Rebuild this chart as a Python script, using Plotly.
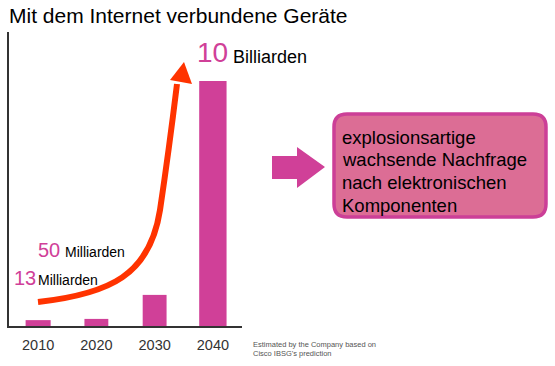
import plotly.graph_objects as go

# ---- data ----
years = ["2010", "2020", "2030", "2040"]
devices = [2.4, 2.9, 12.7, 100]          # relative bar heights
bar_widths = [0.43, 0.41, 0.41, 0.47]

title_text = "Mit dem Internet verbundene Geräte"
box_lines = ["explosionsartige", "wachsende Nachfrage", "nach elektronischen", "Komponenten"]
note_lines = ["Estimated by the Company based on", "Cisco IBSG's prediction"]

W, H = 555, 366
L, R, T, B = 9, 313, 32, 40
PW, PH = W - L - R, H - T - B

def px(x):
    return (x - L) / PW

def py(y):
    return (H - B - y) / PH

MAG = "#D04098"
FONT = "Liberation Sans, Arial, sans-serif"

fig = go.Figure()
fig.add_trace(go.Bar(x=years, y=devices, width=bar_widths, marker=dict(color=MAG, line=dict(width=0)),
                     hoverinfo="skip"))

fig.update_layout(
    width=W, height=H, margin=dict(l=L, r=R, t=T, b=B),
    paper_bgcolor="white", plot_bgcolor="white", showlegend=False,
    font=dict(family=FONT),
    xaxis=dict(showline=True, linecolor="#333", linewidth=2, showgrid=False, zeroline=False,
               ticks="", ticklabelstandoff=5, tickfont=dict(size=14.5, color="#333"), fixedrange=True),
    yaxis=dict(range=[0, 120], showline=True, linecolor="#333", linewidth=2, showgrid=False,
               zeroline=False, showticklabels=False, ticks="", fixedrange=True),
)

ann = []
def text(x, y, s, size, color="black", anchor="left"):
    ann.append(dict(xref="paper", yref="paper", x=px(x), y=py(y), text=s, showarrow=False,
                    xanchor=anchor, yanchor="middle", font=dict(size=size, color=color, family=FONT)))

text(7, 16, title_text, 21)
text(195, 53, "10", 28, MAG)
text(231, 57, "Billiarden", 18)
text(36, 250, "50", 20, MAG)
text(63, 252, "Milliarden", 14)
text(12, 278, "13", 20, MAG)
text(36, 280, "Milliarden", 14)

for i, s in enumerate(box_lines):
    text(340, 137 + i * 22.7, s, 18.5)

for i, s in enumerate(note_lines):
    text(251, 344 + i * 9, s, 7.5, "#555")

fig.update_layout(annotations=ann)

shapes = []
# red growth curve
def P(x, y):
    return f"{px(x):.5f},{py(y):.5f}"

curve = (f"M {P(38,302)} C {P(110,294)} {P(150,275)} {P(160,210)} "
         f"C {P(166,170)} {P(172,125)} {P(177,84)}")
shapes.append(dict(type="path", xref="paper", yref="paper", path=curve,
                   line=dict(color="#FF3300", width=6), layer="above"))
head = f"M {P(184,62)} L {P(170,80)} L {P(192,84)} Z"
shapes.append(dict(type="path", xref="paper", yref="paper", path=head,
                   fillcolor="#FF3300", line=dict(width=0), layer="above"))

# block arrow
barrow = (f"M {P(272,156)} L {P(297,156)} L {P(297,147)} L {P(325,167)} "
          f"L {P(297,188)} L {P(297,179)} L {P(272,179)} Z")
shapes.append(dict(type="path", xref="paper", yref="paper", path=barrow,
                   fillcolor=MAG, line=dict(width=0), layer="below"))

# rounded box
x0, x1, y0, y1, r = 334, 546, 114, 217, 13
box = (f"M {P(x0+r,y0)} L {P(x1-r,y0)} Q {P(x1,y0)} {P(x1,y0+r)} "
       f"L {P(x1,y1-r)} Q {P(x1,y1)} {P(x1-r,y1)} L {P(x0+r,y1)} Q {P(x0,y1)} {P(x0,y1-r)} "
       f"L {P(x0,y0+r)} Q {P(x0,y0)} {P(x0+r,y0)} Z")
shapes.append(dict(type="path", xref="paper", yref="paper", path=box,
                   fillcolor="#DC6D95", line=dict(color="#CC3F97", width=3.5), layer="below"))

fig.update_layout(shapes=shapes)
fig.write_html("out.html", config={"displayModeBar": False},
               post_script="document.body.style.margin='0';document.body.style.overflow='hidden';")
